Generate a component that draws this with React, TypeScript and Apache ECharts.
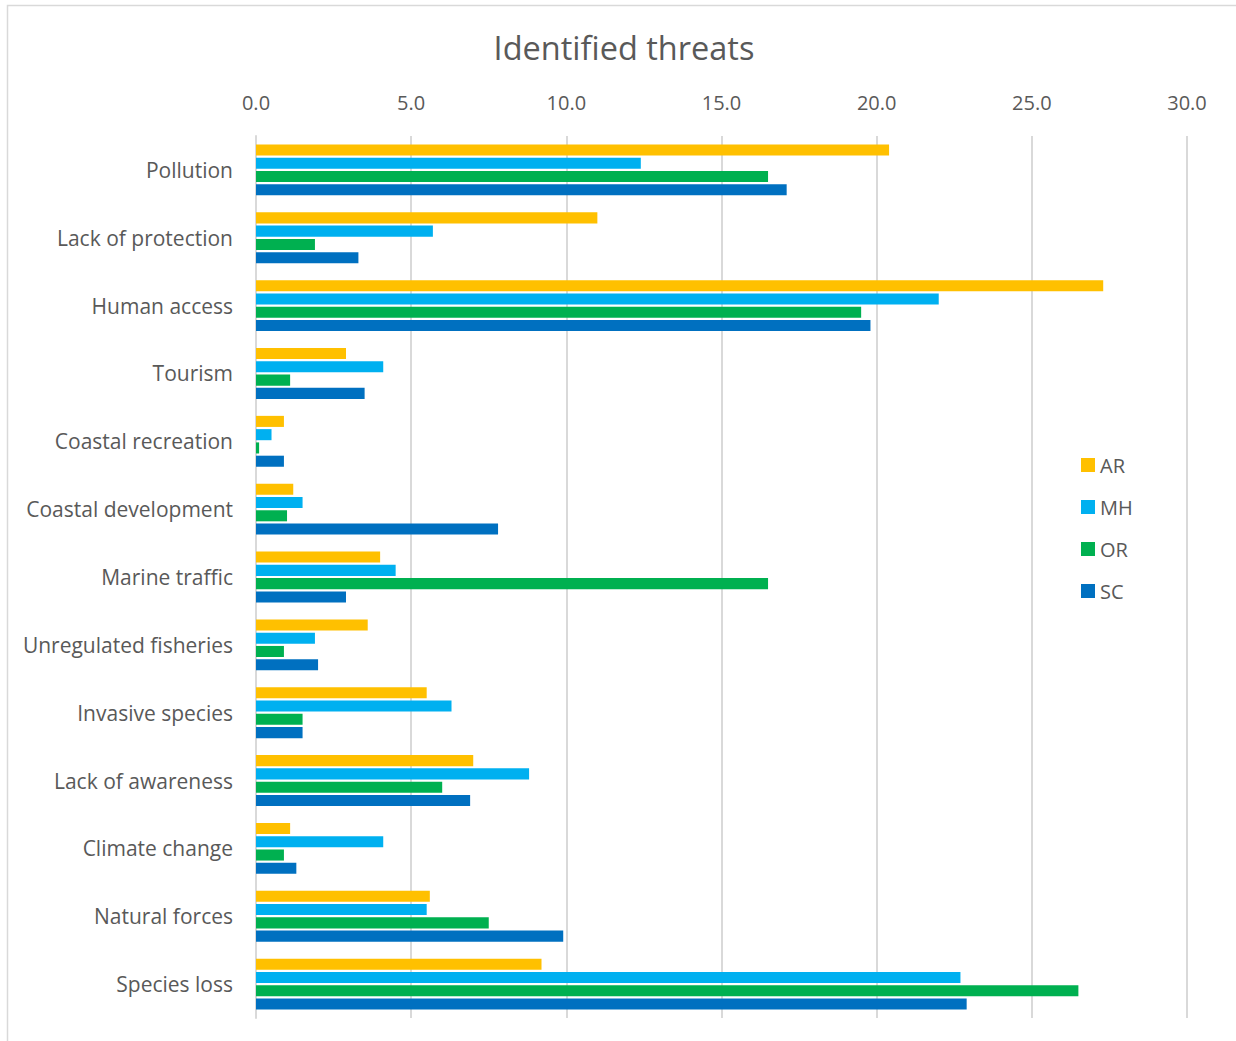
import { useEffect, useRef } from "react";
import * as echarts from "echarts";

const categories = [
  "Pollution",
  "Lack of protection",
  "Human access",
  "Tourism",
  "Coastal recreation",
  "Coastal development",
  "Marine traffic",
  "Unregulated fisheries",
  "Invasive species",
  "Lack of awareness",
  "Climate change",
  "Natural forces",
  "Species loss",
];

const seriesNames = ["AR", "MH", "OR", "SC"];
const seriesColors = ["#FFC000", "#00B0F0", "#00B050", "#0070C0"];

const arValues = [20.4, 11.0, 27.3, 2.9, 0.9, 1.2, 4.0, 3.6, 5.5, 7.0, 1.1, 5.6, 9.2];
const mhValues = [12.4, 5.7, 22.0, 4.1, 0.5, 1.5, 4.5, 1.9, 6.3, 8.8, 4.1, 5.5, 22.7];
const orValues = [16.5, 1.9, 19.5, 1.1, 0.1, 1.0, 16.5, 0.9, 1.5, 6.0, 0.9, 7.5, 26.5];
const scValues = [17.1, 3.3, 19.8, 3.5, 0.9, 7.8, 2.9, 2.0, 1.5, 6.9, 1.3, 9.9, 22.9];

const axisMin = 0;
const axisMax = 30;
const axisStep = 5;

const FONT = "'Open Sans', sans-serif";
const TEXT_COLOR = "#595959";
const GRID_COLOR = "#D9D9D9";

export default function App() {
  const ref = useRef<HTMLDivElement>(null);

  useEffect(() => {
    if (!ref.current) return;
    const chart = echarts.init(ref.current, undefined, { renderer: "svg" });
    const values = [arValues, mhValues, orValues, scValues];

    chart.setOption({
      animation: false,
      backgroundColor: "#FFFFFF",
      textStyle: { fontFamily: FONT },
      graphic: [
        {
          type: "rect",
          shape: { x: 7.5, y: 5.5, width: 1240, height: 1050 },
          style: { fill: "none", stroke: GRID_COLOR, lineWidth: 1.5 },
          silent: true,
          z: -1,
        },
        {
          type: "text",
          x: 624,
          y: 47,
          style: {
            text: "Identified threats",
            fontFamily: FONT,
            fontSize: 32.5,
            fill: TEXT_COLOR,
            align: "center",
            verticalAlign: "middle",
          },
          silent: true,
        },
      ],
      legend: {
        orient: "vertical",
        left: 1081,
        top: 455,
        padding: 0,
        icon: "rect",
        itemWidth: 14,
        itemHeight: 14,
        itemGap: 22,
        data: seriesNames,
        textStyle: { fontFamily: FONT, fontSize: 20, lineHeight: 20, color: TEXT_COLOR },
      },
      grid: { left: 256, right: 49, top: 136, bottom: 23, containLabel: false },
      xAxis: {
        type: "value",
        position: "top",
        min: axisMin,
        max: axisMax,
        interval: axisStep,
        axisLine: { show: false },
        axisTick: { show: false },
        splitLine: { show: true, lineStyle: { color: GRID_COLOR, width: 2 } },
        axisLabel: {
          fontFamily: FONT,
          fontSize: 20,
          color: TEXT_COLOR,
          margin: 24,
          formatter: (v: number) => v.toFixed(1),
        },
      },
      yAxis: {
        type: "category",
        inverse: true,
        data: categories,
        axisLine: { show: true, lineStyle: { color: GRID_COLOR, width: 2 } },
        axisTick: { show: false },
        axisLabel: { fontFamily: FONT, fontSize: 21, color: TEXT_COLOR, margin: 23 },
      },
      series: seriesNames.map((name, i) => ({
        name,
        type: "bar",
        data: values[i],
        barCategoryGap: "25%",
        barGap: "20%",
        itemStyle: { color: seriesColors[i] },
      })),
    });

    return () => chart.dispose();
  }, []);

  return (
    <div
      ref={ref}
      style={{ position: "fixed", left: 0, top: 0, width: 1236, height: 1041 }}
    />
  );
}
